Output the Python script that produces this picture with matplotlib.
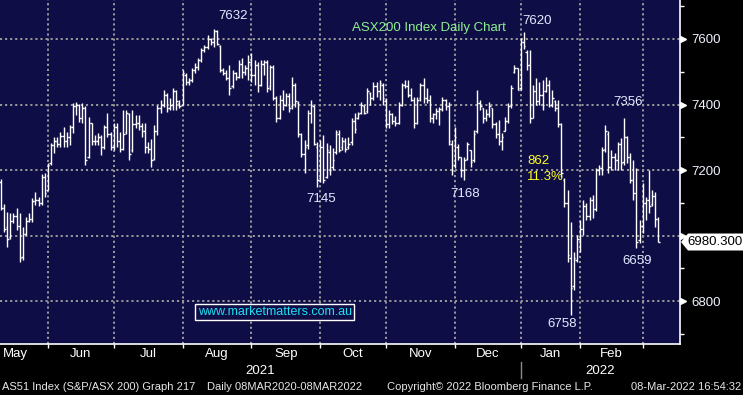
import numpy as np
import pandas as pd
import matplotlib
matplotlib.use("Agg")
import matplotlib.pyplot as plt
import matplotlib.transforms as mtransforms
from matplotlib.collections import LineCollection
from matplotlib.patches import Polygon
from matplotlib.lines import Line2D

plt.rcParams['font.family'] = ['Liberation Sans', 'DejaVu Sans']

# ASX trading days shown on the chart
holidays = ["2021-06-14", "2021-12-27", "2021-12-28", "2022-01-03", "2022-01-26"]
dates = pd.bdate_range("2021-05-11", "2022-03-08", freq="C", holidays=holidays)

# daily bars, one line per month (May 2021 .. Mar 2022)
opens = [
    7165, 7085, 7025, 6995, 7045, 7060, 7030, 6935, 7005, 7045, 7050, 7105, 7110, 7100, 7180,
    7140, 7220, 7275, 7290, 7280, 7305, 7290, 7300, 7330, 7395, 7400, 7360, 7390, 7240, 7345, 7290, 7290, 7300, 7270, 7330, 7310,
    7270, 7330, 7290, 7265, 7315, 7370, 7260, 7340, 7345, 7335, 7320, 7270, 7265, 7235, 7320, 7390, 7400, 7430, 7390, 7400, 7440, 7405,
    7400, 7490, 7470, 7475, 7505, 7515, 7535, 7565, 7575, 7600, 7590, 7625, 7580, 7505, 7495, 7480, 7455, 7495, 7485, 7525, 7500, 7510,
    7530, 7490, 7520, 7460, 7525, 7530, 7455, 7515, 7420, 7360, 7415, 7400, 7425, 7395, 7460, 7405, 7310, 7250, 7275, 7375, 7395, 7270,
    7175, 7270, 7180, 7255, 7210, 7255, 7310, 7270, 7290, 7270, 7285, 7350, 7360, 7375, 7395, 7380, 7435, 7420, 7455, 7440, 7460,
    7410, 7340, 7370, 7350, 7345, 7400, 7460, 7455, 7430, 7415, 7345, 7420, 7460, 7420, 7415, 7360, 7370, 7380, 7385, 7415, 7395, 7280,
    7215, 7270, 7240, 7200, 7235, 7260, 7230, 7320, 7405, 7390, 7360, 7370, 7390, 7340, 7310, 7290, 7320, 7350, 7400, 7500, 7510,
    7450, 7590, 7560, 7520, 7360, 7440, 7410, 7430, 7440, 7460, 7400, 7410, 7390, 7340, 7170, 7100, 6930, 6845, 6925,
    6990, 7020, 7090, 7060, 7110, 7080, 7200, 7205, 7265, 7310, 7210, 7240, 7230, 7280, 7225, 7300, 7240, 7170, 7130, 6985,
    7030, 7100, 7110, 7095, 7120, 7050,
]
highs = [
    7173, 7096, 7072, 7069, 7069, 7084, 7069, 7026, 7057, 7069, 7115, 7133, 7118, 7188, 7191,
    7221, 7282, 7300, 7300, 7316, 7331, 7316, 7337, 7405, 7408, 7402, 7405, 7395, 7362, 7343, 7307, 7313, 7307, 7337, 7374, 7316,
    7343, 7343, 7316, 7383, 7383, 7375, 7383, 7368, 7368, 7343, 7343, 7286, 7296, 7337, 7399, 7414, 7444, 7435, 7420, 7450, 7445, 7414,
    7505, 7496, 7481, 7511, 7527, 7542, 7573, 7582, 7612, 7603, 7632, 7627, 7582, 7511, 7505, 7520, 7505, 7500, 7536, 7542, 7520, 7551,
    7557, 7536, 7530, 7536, 7536, 7535, 7520, 7520, 7425, 7429, 7444, 7435, 7435, 7484, 7465, 7410, 7313, 7292, 7383, 7414, 7400, 7285,
    7292, 7307, 7282, 7276, 7267, 7322, 7322, 7301, 7298, 7300, 7359, 7374, 7377, 7408, 7400, 7450, 7438, 7469, 7469, 7475, 7465,
    7420, 7383, 7375, 7365, 7408, 7466, 7475, 7475, 7450, 7423, 7423, 7466, 7481, 7450, 7429, 7374, 7390, 7392, 7423, 7418, 7408, 7292,
    7331, 7280, 7240, 7240, 7286, 7261, 7322, 7444, 7414, 7390, 7385, 7408, 7390, 7347, 7353, 7313, 7362, 7405, 7459, 7521, 7511,
    7603, 7621, 7566, 7566, 7460, 7481, 7470, 7475, 7484, 7475, 7444, 7414, 7414, 7343, 7176, 7139, 7041, 6950, 7002,
    7047, 7108, 7100, 7118, 7124, 7206, 7215, 7270, 7337, 7320, 7261, 7252, 7286, 7298, 7359, 7305, 7252, 7231, 7206, 7047,
    7160, 7118, 7200, 7140, 7133, 7057,
]
lows = [
    7078, 7010, 6965, 6990, 7038, 7017, 6920, 6925, 7002, 7041, 7041, 7093, 7090, 7093, 7118,
    7139, 7215, 7252, 7270, 7270, 7270, 7270, 7276, 7313, 7368, 7347, 7343, 7215, 7237, 7276, 7276, 7276, 7246, 7265, 7301, 7261,
    7262, 7270, 7255, 7261, 7310, 7231, 7255, 7328, 7322, 7301, 7252, 7252, 7209, 7230, 7307, 7374, 7392, 7377, 7383, 7383, 7383, 7389,
    7399, 7460, 7460, 7470, 7496, 7505, 7530, 7560, 7570, 7582, 7576, 7582, 7499, 7490, 7475, 7429, 7450, 7475, 7480, 7481, 7490, 7475,
    7469, 7460, 7438, 7455, 7490, 7438, 7445, 7414, 7347, 7355, 7383, 7395, 7377, 7385, 7392, 7301, 7240, 7191, 7265, 7343, 7276, 7148,
    7165, 7160, 7175, 7185, 7200, 7250, 7255, 7260, 7255, 7265, 7276, 7313, 7355, 7370, 7370, 7374, 7399, 7414, 7423, 7414, 7399,
    7328, 7328, 7340, 7335, 7340, 7395, 7450, 7423, 7410, 7328, 7340, 7410, 7405, 7405, 7347, 7343, 7355, 7338, 7380, 7383, 7276, 7185,
    7206, 7231, 7179, 7170, 7231, 7209, 7225, 7313, 7383, 7343, 7350, 7362, 7328, 7298, 7276, 7261, 7320, 7343, 7389, 7496, 7444,
    7444, 7570, 7505, 7343, 7359, 7399, 7399, 7383, 7438, 7392, 7392, 7380, 7331, 7179, 7087, 6919, 6758, 6834, 6919,
    6950, 7002, 7047, 7047, 7053, 7075, 7185, 7185, 7255, 7191, 7200, 7200, 7200, 7200, 7215, 7222, 7160, 7108, 6962, 6977,
    7008, 7047, 7069, 7090, 7026, 6980.3,
]
closes = [
    7085, 7020, 6990, 7045, 7060, 7030, 6930, 7005, 7045, 7050, 7105, 7110, 7100, 7180, 7130,
    7215, 7275, 7290, 7280, 7305, 7290, 7300, 7330, 7395, 7400, 7360, 7390, 7230, 7345, 7290, 7290, 7300, 7270, 7330, 7310, 7270,
    7330, 7290, 7265, 7310, 7375, 7250, 7340, 7345, 7335, 7320, 7270, 7265, 7230, 7320, 7390, 7400, 7430, 7390, 7400, 7440, 7410, 7395,
    7495, 7470, 7475, 7505, 7515, 7535, 7565, 7575, 7600, 7590, 7625, 7585, 7505, 7495, 7480, 7450, 7495, 7485, 7525, 7500, 7510, 7530,
    7490, 7520, 7460, 7525, 7530, 7450, 7515, 7420, 7360, 7415, 7400, 7425, 7390, 7460, 7410, 7310, 7250, 7270, 7375, 7400, 7280, 7170,
    7270, 7170, 7260, 7200, 7230, 7315, 7260, 7290, 7265, 7280, 7350, 7325, 7370, 7400, 7375, 7440, 7420, 7455, 7440, 7465, 7420,
    7340, 7370, 7350, 7345, 7400, 7460, 7455, 7430, 7415, 7345, 7415, 7460, 7420, 7415, 7360, 7370, 7380, 7385, 7415, 7395, 7290, 7200,
    7300, 7240, 7200, 7230, 7280, 7225, 7310, 7405, 7395, 7360, 7370, 7395, 7340, 7310, 7290, 7300, 7350, 7395, 7450, 7510, 7445,
    7590, 7580, 7520, 7360, 7440, 7410, 7430, 7400, 7460, 7400, 7420, 7390, 7340, 7190, 7100, 6940, 6840, 6930, 6990,
    7020, 7090, 7060, 7110, 7080, 7200, 7205, 7260, 7320, 7210, 7240, 7230, 7280, 7220, 7300, 7240, 7170, 7130, 6980, 7030,
    7100, 7110, 7090, 7120, 7050, 6980.3,
]
price_ticks = [6800, 7000, 7200, 7400, 7600]

n = len(dates)
assert len(opens) == n and len(highs) == n and len(lows) == n and len(closes) == n, \
    (n, len(opens), len(highs), len(lows), len(closes))

W, H = 743, 395
fig = plt.figure(figsize=(W / 100, H / 100), dpi=100, facecolor='black')
ax = fig.add_axes([0, 51 / H, 680 / W, 344 / H])
ax.set_facecolor('#0e0d46')

# OHLC bars
tick_w = 0.5
segs = []
for i in range(n):
    segs.append([(i, lows[i]), (i, highs[i])])
    segs.append([(i - tick_w, opens[i]), (i, opens[i])])
    segs.append([(i, closes[i]), (i + tick_w, closes[i])])
ax.add_collection(LineCollection(segs, colors='white', linewidths=1.0, zorder=3))

ax.set_xlim(-0.3, 216.9)
ax.set_ylim(6669, 7719)

# month boundaries
periods = dates.to_period('M')
starts = [i for i in range(1, n) if periods[i] != periods[i - 1]]
ax.set_xticks(starts)
ax.tick_params(axis='x', direction='out', length=3, width=1, color='white', labelbottom=False)

# right price axis; the 7000 label sits under the last-price flag
ax.yaxis.tick_right()
ax.set_yticks(price_ticks)
ax.set_yticklabels(['' if abs(p - closes[-1]) < 60 else str(p) for p in price_ticks])
ax.set_yticks(range(6700, 7701, 100), minor=True)
ax.tick_params(axis='y', which='major', length=0, pad=8, labelsize=9.5, labelcolor='#eef2ff')
ax.tick_params(axis='y', which='minor', length=3, width=1, color='white', direction='out')
ax.plot(np.full(len(price_ticks), 1.005), price_ticks, ls='none', marker='>', ms=5,
        color='white', transform=ax.get_yaxis_transform(), clip_on=False)

ax.set_axisbelow(True)
ax.grid(True, which='major', color='#9a9a9a', linestyle=(0, (1.1, 1.5)), linewidth=1.4)

for s in ['top', 'left']:
    ax.spines[s].set_visible(False)
for s in ['right', 'bottom']:
    ax.spines[s].set_color('white')
    ax.spines[s].set_linewidth(1.2)

# month and year labels under the axis
xfig = mtransforms.blended_transform_factory(ax.transData, fig.transFigure)
may_start = -len(pd.bdate_range("2021-05-03", "2021-05-10"))
bounds = [may_start] + starts
for k in range(len(bounds) - 1):
    mid = (bounds[k] + bounds[k + 1]) / 2
    name = dates[max(bounds[k], 0)].strftime('%b')
    ax.text(mid, 1 - 354 / H, name, transform=xfig, ha='center', va='center',
            fontsize=9.5, color='white')

jan = [i for i in starts if dates[i].month == 1][0]
x0, x1 = ax.get_xlim()
ax.text((x0 + jan) / 2, 1 - 371 / H, "2021", transform=xfig, ha='center', va='center',
        fontsize=9.5, color='white')
ax.text((jan + x1) / 2, 1 - 371 / H, "2022", transform=xfig, ha='center', va='center',
        fontsize=9.5, color='white')
fig.add_artist(Line2D([jan, jan], [1 - 362 / H, 1 - 378 / H], transform=xfig,
                      color='#8a8a8a', lw=1))

# annotations
lab = '#e4ebff'
ax.text(74.1, 7670, "7632", ha='center', va='center', fontsize=9.5, color=lab)
ax.text(171.2, 7656, "7620", ha='center', va='center', fontsize=9.5, color=lab)
ax.text(136.6, 7634, "ASX200 Index Daily Chart", ha='center', va='center',
        fontsize=9.5, color='#8ef08e')
ax.text(200.4, 7408, "7356", ha='center', va='center', fontsize=9.5, color=lab)
ax.text(168.0, 7229, "862", ha='left', va='center', fontsize=9.5, color='#ffff20')
ax.text(168.0, 7180, "11.3%", ha='left', va='center', fontsize=9.5, color='#ffff20')
ax.text(102.2, 7113, "7145", ha='center', va='center', fontsize=9.5, color=lab)
ax.text(148.4, 7128, "7168", ha='center', va='center', fontsize=9.5, color=lab)
ax.text(203.2, 6921, "6659", ha='center', va='center', fontsize=9.5, color=lab)
ax.text(179.2, 6731, "6758", ha='center', va='center', fontsize=9.5, color=lab)
ax.text(87.4, 6766, "www.marketmatters.com.au", ha='center', va='center', fontsize=9,
        color='#1ee0f5', zorder=5,
        bbox=dict(boxstyle='square,pad=0.18', facecolor='#0e0d46', edgecolor='white', lw=1))

# last price flag on the right axis
yc = ax.transData.transform((0, closes[-1]))[1]
flag = Polygon([(681, yc), (688, yc + 8.5), (743, yc + 8.5), (743, yc - 8.5), (688, yc - 8.5)],
               closed=True, facecolor='white', edgecolor='none',
               transform=mtransforms.IdentityTransform(), zorder=10)
fig.add_artist(flag)
fig.text(715 / W, yc / H, f"{closes[-1]:.3f}", ha='center', va='center', fontsize=9.5,
         color='black', zorder=11)

# footer
foot = '#e6e6e6'
fy = 1 - 387 / H
fig.text(2 / W, fy, "AS51 Index (S&P/ASX 200) Graph 217", ha='left', va='center', fontsize=8, color=foot)
fig.text(207 / W, fy, "Daily 08MAR2020-08MAR2022", ha='left', va='center', fontsize=8, color=foot)
fig.text(387 / W, fy, "Copyright\u00a9 2022 Bloomberg Finance L.P.", ha='left', va='center', fontsize=8, color=foot)
fig.text(741 / W, fy, "08-Mar-2022 16:54:32", ha='right', va='center', fontsize=8, color=foot)

fig.savefig("out.png", dpi=100, facecolor='black')
